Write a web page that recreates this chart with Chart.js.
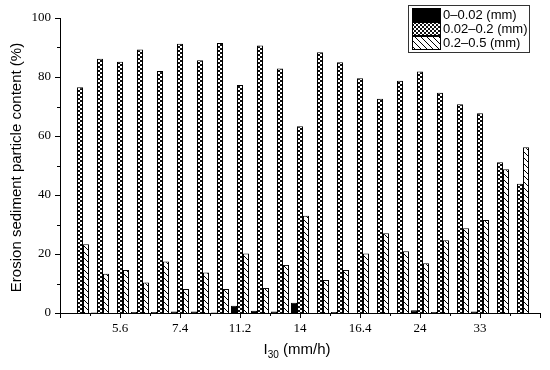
<!DOCTYPE html>
<html>
<head>
<meta charset="utf-8">
<script src="https://cdn.jsdelivr.net/npm/chart.js@4.4.0/dist/chart.umd.min.js"></script>
<style>
    html, body { margin: 0; padding: 0; background: #fff; }
</style>
</head>
<body>
<canvas id="myChart" width="550" height="370"></canvas>
<script>
'use strict';

// dane
var tickLabels = ['5.6', '7.4', '11.2', '14', '16.4', '24', '33'];
var seriesNames = ['0\u20130.02 (mm)', '0.02\u20130.2 (mm)', '0.2\u20130.5 (mm)'];
var fine = [0, 0.2, 0, 0.3, 0.3, 0.5, 0.5, 0.2, 2.5, 0.8, 0.5, 3.5, 0, 0.3, 0, 0, 0, 0.9, 0.3, 0, 0.5, 0, 0];
var medium = [76.5, 86.2, 85.2, 89.3, 82.0, 91.3, 85.7, 91.5, 77.3, 90.7, 82.9, 63.3, 88.4, 85.0, 79.6, 72.6, 78.7, 81.9, 74.7, 70.8, 67.7, 51.1, 43.8];
var coarse = [23.3, 13.3, 14.6, 10.3, 17.5, 8.1, 13.7, 8.1, 20.2, 8.5, 16.3, 33.0, 11.2, 14.6, 20.2, 27.0, 20.9, 16.9, 24.7, 28.7, 31.5, 48.7, 56.2];

var ctx = document.getElementById('myChart').getContext('2d');

// wzor kratki
function checkerPattern() {
    var c = document.createElement('canvas');
    c.width = 4; c.height = 4;
    var g = c.getContext('2d');
    g.fillStyle = '#fff';
    g.fillRect(0, 0, 4, 4);
    g.fillStyle = '#111';
    g.fillRect(0, 0, 2, 2);
    g.fillRect(2, 2, 2, 2);
    return ctx.createPattern(c, 'repeat');
}

// wzor ukosnych linii
function hatchPattern() {
    var c = document.createElement('canvas');
    c.width = 6; c.height = 6;
    var g = c.getContext('2d');
    g.fillStyle = '#fff';
    g.fillRect(0, 0, 6, 6);
    g.strokeStyle = '#000';
    g.lineWidth = 1;
    g.beginPath();
    g.moveTo(-1, -1); g.lineTo(7, 7);
    g.moveTo(-1, 5); g.lineTo(1, 7);
    g.moveTo(5, -1); g.lineTo(7, 1);
    g.stroke();
    return ctx.createPattern(c, 'repeat');
}

function toPoints(arr) {
    return arr.map(function (v, i) { return { x: i + 1, y: v }; });
}

var fills = ['#000', checkerPattern(), hatchPattern()];

// legenda i tytuly osi rysowane recznie
var extras = {
    id: 'extras',
    afterDraw: function (chart) {
        var c = chart.ctx;
        var area = chart.chartArea;
        var xs = chart.scales.x, ys = chart.scales.y;
        c.save();
        c.strokeStyle = '#000';
        c.lineWidth = 1;

        // znaczniki osi
        c.beginPath();
        ys.ticks.forEach(function (t) {
            var py = Math.round(ys.getPixelForValue(t.value)) + 0.5;
            var len = t.value % 20 === 0 ? 5 : 3;
            c.moveTo(area.left, py); c.lineTo(area.left - len, py);
        });
        xs.ticks.forEach(function (t) {
            var px = Math.round(xs.getPixelForValue(t.value)) + 0.5;
            var len = t.value % 3 === 0 ? 5 : 3;
            c.moveTo(px, area.bottom); c.lineTo(px, area.bottom + len);
        });
        c.stroke();

        // tytul osi Y
        c.fillStyle = '#000';
        c.font = '15px "Liberation Sans", Arial, sans-serif';
        c.textAlign = 'center';
        c.textBaseline = 'middle';
        c.save();
        c.translate(17, (area.top + area.bottom) / 2 + 2);
        c.rotate(-Math.PI / 2);
        c.fillText('Erosion sediment particle content (%)', 0, 0);
        c.restore();

        // tytul osi X z indeksem dolnym
        c.textAlign = 'left';
        c.textBaseline = 'alphabetic';
        var big = '15px "Liberation Sans", Arial, sans-serif';
        var small = '10px "Liberation Sans", Arial, sans-serif';
        c.font = big; var w1 = c.measureText('I').width;
        c.font = small; var w2 = c.measureText('30').width;
        c.font = big; var w3 = c.measureText(' (mm/h)').width;
        var x0 = (area.left + area.right) / 2 - (w1 + w2 + w3) / 2 - 3;
        var base = 354;
        c.font = big; c.fillText('I', x0, base);
        c.font = small; c.fillText('30', x0 + w1, base + 4);
        c.font = big; c.fillText(' (mm/h)', x0 + w1 + w2, base);

        // legenda
        var lx = 408, ly = 5;
        c.fillStyle = '#fff';
        c.fillRect(lx, ly, 121, 47);
        c.strokeStyle = '#333';
        c.strokeRect(lx + 0.5, ly + 0.5, 121, 47);
        c.font = '13px "Liberation Sans", Arial, sans-serif';
        c.textBaseline = 'middle';
        chart.data.datasets.forEach(function (ds, i) {
            var sy = 8 + i * 14;
            c.fillStyle = ds.backgroundColor;
            c.fillRect(412, sy, 28, 13);
            c.strokeStyle = '#000';
            c.strokeRect(412.5, sy + 0.5, 28, 13);
            c.fillStyle = '#000';
            c.fillText(ds.label, 443, sy + 7);
        });
        c.restore();
    }
};

var chart = new Chart(ctx, {
    type: 'bar',
    data: {
        datasets: [
            { label: seriesNames[0], data: toPoints(fine), backgroundColor: fills[0] },
            { label: seriesNames[1], data: toPoints(medium), backgroundColor: fills[1] },
            { label: seriesNames[2], data: toPoints(coarse), backgroundColor: fills[2] }
        ]
    },
    options: {
        responsive: false,
        animation: false,
        devicePixelRatio: 1,
        layout: { padding: { left: 0, top: 18, right: 10, bottom: 0 } },
        datasets: {
            bar: {
                borderColor: '#000',
                borderWidth: 1,
                barPercentage: 1,
                categoryPercentage: 0.9
            }
        },
        plugins: {
            legend: { display: false },
            tooltip: { enabled: false }
        },
        scales: {
            x: {
                type: 'linear',
                min: 0,
                max: 24,
                offset: false,
                grid: { display: false, drawTicks: false },
                border: { display: true, color: '#000', width: 1 },
                ticks: {
                    stepSize: 1.5,
                    autoSkip: false,
                    maxRotation: 0,
                    padding: 8,
                    color: '#000',
                    font: { family: '"Liberation Serif", "Times New Roman", serif', size: 13 },
                    callback: function (v) {
                        var k = v / 3;
                        if (Number.isInteger(k) && k >= 1 && k <= tickLabels.length) {
                            return tickLabels[k - 1];
                        }
                        return '';
                    }
                },
                afterFit: function (s) { s.height = 57; }
            },
            y: {
                min: 0,
                max: 100,
                grid: { display: false, drawTicks: false },
                border: { display: true, color: '#000', width: 1 },
                ticks: {
                    stepSize: 10,
                    padding: 9,
                    color: '#000',
                    font: { family: '"Liberation Serif", "Times New Roman", serif', size: 13 },
                    callback: function (v) { return v % 20 === 0 ? v : ''; }
                },
                afterFit: function (s) { s.width = 60; }
            }
        }
    },
    plugins: [extras]
});
</script>
</body>
</html>
